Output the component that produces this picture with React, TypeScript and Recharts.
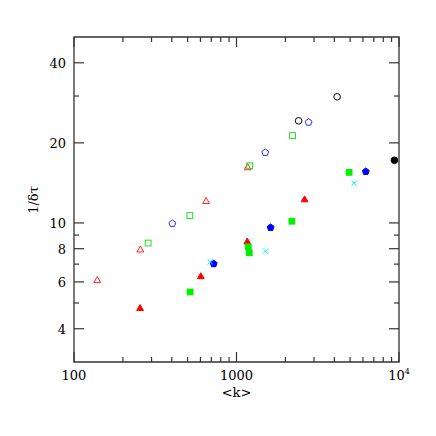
import { ScatterChart, Scatter, XAxis, YAxis, ReferenceArea } from "recharts"

// <k> and 1/δτ, one pair of arrays per symbol
const openTriK = [139, 256, 650, 1172]
const openTriRate = [6.1, 7.95, 12.1, 16.2]
const openSqK = [286, 516, 1205, 2213]
const openSqRate = [8.4, 10.66, 16.4, 21.3]
const openPentK = [403, 1503, 2777]
const openPentRate = [9.95, 18.4, 23.9]
const openCircK = [2410, 4160]
const openCircRate = [24.2, 29.8]
const fillCircK = [9373]
const fillCircRate = [17.2]
const fillTriK = [255, 603, 1165, 2625]
const fillTriRate = [4.79, 6.31, 8.52, 12.27]
const fillSqK = [518, 1181, 1198, 2193, 4930]
const fillSqRate = [5.5, 8.13, 7.72, 10.15, 15.5]
const fillPentK = [724, 1622, 6246]
const fillPentRate = [7.02, 9.61, 15.6]
const crossK = [690, 1510, 5291]
const crossRate = [7.14, 7.83, 14.1]

const xTicks = [100, 200, 300, 400, 500, 600, 700, 800, 900, 1000, 2000, 3000, 4000, 5000, 6000, 7000, 8000, 9000, 10000]
const xLabelled = [100, 1000, 10000]
const yTicks = [4, 5, 6, 7, 8, 9, 10, 20, 30, 40]
const yLabelled = [4, 6, 8, 10, 20, 40]

const W = 436
const H = 436
const margin = { top: 37, right: 37, left: 14, bottom: 34 }
const Y_AXIS_W = 60
const X_AXIS_H = 40
const LEFT = margin.left + Y_AXIS_W
const RIGHT = W - margin.right
const TOP = margin.top
const BOTTOM = H - margin.bottom - X_AXIS_H

const FONT = "DejaVu Serif, Liberation Serif, serif"
const AXIS = "#333"

const zip = (ks: number[], rs: number[]) => ks.map((k, i) => ({ k, rate: rs[i] }))

type Kind = "tri" | "sq" | "pent" | "circ" | "cross"

function Marker({ cx, cy, kind, color, filled }: any) {
  if (cx == null || cy == null) return null
  const fill = filled ? color : "none"
  const sw = 1
  if (kind === "tri") {
    const r = 3.4
    return (
      <polygon
        points={`${cx},${cy - r} ${cx - r},${cy + r * 0.75} ${cx + r},${cy + r * 0.75}`}
        fill={fill}
        stroke={color}
        strokeWidth={sw}
      />
    )
  }
  if (kind === "sq") {
    const r = 2.9
    return <rect x={cx - r} y={cy - r} width={r * 2} height={r * 2} fill={fill} stroke={color} strokeWidth={sw} />
  }
  if (kind === "pent") {
    const r = 3.6
    const pts = [0, 1, 2, 3, 4]
      .map((i) => {
        const a = (-90 + i * 72) * (Math.PI / 180)
        return `${cx + r * Math.cos(a)},${cy + r * Math.sin(a)}`
      })
      .join(" ")
    return <polygon points={pts} fill={fill} stroke={color} strokeWidth={sw} />
  }
  if (kind === "circ") {
    return <circle cx={cx} cy={cy} r={3.3} fill={fill} stroke={color} strokeWidth={sw} />
  }
  const r = 2.6
  return (
    <g stroke={color} strokeWidth={1}>
      <line x1={cx - r} y1={cy - r} x2={cx + r} y2={cy + r} />
      <line x1={cx - r} y1={cy + r} x2={cx + r} y2={cy - r} />
    </g>
  )
}

const shape = (kind: Kind, color: string, filled: boolean) => (props: any) =>
  <Marker cx={props.cx} cy={props.cy} kind={kind} color={color} filled={filled} />

function XTick({ x, payload }: any) {
  const v = payload.value
  const major = xLabelled.includes(v)
  const len = major ? 10 : 5
  return (
    <g>
      <line x1={x} y1={BOTTOM} x2={x} y2={BOTTOM - len} stroke={AXIS} strokeWidth={1.2} />
      <line x1={x} y1={TOP} x2={x} y2={TOP + len} stroke={AXIS} strokeWidth={1.2} />
      {major && v === 10000 && (
        <text x={x} y={BOTTOM + 18} textAnchor="middle" fontFamily={FONT} fontSize={13} fill="#000">
          10<tspan dy={-6} fontSize={8}>4</tspan>
        </text>
      )}
      {major && v !== 10000 && (
        <text x={x} y={BOTTOM + 18} textAnchor="middle" fontFamily={FONT} fontSize={13} fill="#000">
          {v}
        </text>
      )}
    </g>
  )
}

function YTick({ y, payload }: any) {
  const v = payload.value
  const major = yLabelled.includes(v)
  const len = major ? 10 : 5
  return (
    <g>
      <line x1={LEFT} y1={y} x2={LEFT + len} y2={y} stroke={AXIS} strokeWidth={1.2} />
      <line x1={RIGHT} y1={y} x2={RIGHT - len} y2={y} stroke={AXIS} strokeWidth={1.2} />
      {major && (
        <text x={LEFT - 8} y={y + 5} textAnchor="end" fontFamily={FONT} fontSize={13} fill="#000">
          {v}
        </text>
      )}
    </g>
  )
}

const XTitle = () => (
  <text x={(LEFT + RIGHT) / 2} y={397} textAnchor="middle" fontFamily={FONT} fontSize={13} fill="#000">
    {"<k>"}
  </text>
)

const YTitle = () => (
  <text
    x={0}
    y={0}
    transform={`translate(38, 200) rotate(-90)`}
    textAnchor="middle"
    fontFamily={FONT}
    fontSize={13}
    fill="#000"
  >
    1/δτ
  </text>
)

export default function App() {
  return (
    <div style={{ position: "absolute", left: 0, top: 0, background: "#fff" }}>
      <ScatterChart width={W} height={H} margin={margin}>
        <XAxis
          dataKey="k"
          type="number"
          scale="log"
          domain={[100, 10000]}
          allowDataOverflow
          ticks={xTicks}
          interval={0}
          tick={<XTick />}
          tickLine={false}
          axisLine={false}
          tickSize={0}
          height={X_AXIS_H}
          label={<XTitle />}
        />
        <YAxis
          dataKey="rate"
          type="number"
          scale="log"
          domain={[3, 50]}
          allowDataOverflow
          ticks={yTicks}
          interval={0}
          tick={<YTick />}
          tickLine={false}
          axisLine={false}
          tickSize={0}
          width={Y_AXIS_W}
          label={<YTitle />}
        />
        <ReferenceArea x1={100} x2={10000} y1={3} y2={50} fill="none" stroke={AXIS} strokeWidth={1.3} />
        <Scatter data={zip(openTriK, openTriRate)} shape={shape("tri", "#ff2020", false)} isAnimationActive={false} />
        <Scatter data={zip(openSqK, openSqRate)} shape={shape("sq", "#20e020", false)} isAnimationActive={false} />
        <Scatter data={zip(openPentK, openPentRate)} shape={shape("pent", "#3030ff", false)} isAnimationActive={false} />
        <Scatter data={zip(openCircK, openCircRate)} shape={shape("circ", "#000", false)} isAnimationActive={false} />
        <Scatter data={zip(fillCircK, fillCircRate)} shape={shape("circ", "#000", true)} isAnimationActive={false} />
        <Scatter data={zip(fillTriK, fillTriRate)} shape={shape("tri", "#ff0000", true)} isAnimationActive={false} />
        <Scatter data={zip(fillSqK, fillSqRate)} shape={shape("sq", "#00ee00", true)} isAnimationActive={false} />
        <Scatter data={zip(fillPentK, fillPentRate)} shape={shape("pent", "#0000ff", true)} isAnimationActive={false} />
        <Scatter data={zip(crossK, crossRate)} shape={shape("cross", "#00eeee", false)} isAnimationActive={false} />
      </ScatterChart>
    </div>
  )
}
